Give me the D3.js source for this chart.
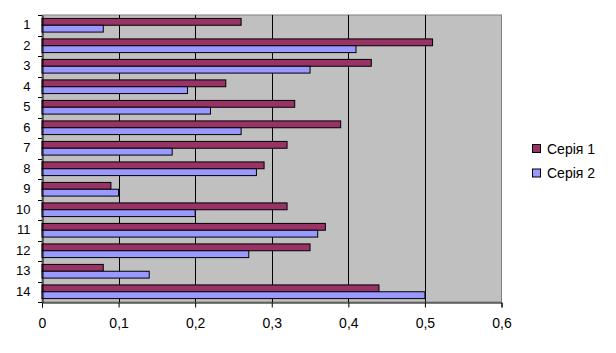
<!DOCTYPE html>
<html>
<head>
<meta charset="utf-8">
<script src="https://cdn.jsdelivr.net/npm/d3@7"></script>
<style>
body { margin: 0; background: #fff; }
text { font-family: "Liberation Sans", Arial, sans-serif; }
</style>
</head>
<body>
<svg id="chart" width="616" height="353"></svg>
<script>
var categories = ["1","2","3","4","5","6","7","8","9","10","11","12","13","14"]
var seria1 = [0.26,0.51,0.43,0.24,0.33,0.39,0.32,0.29,0.09,0.32,0.37,0.35,0.08,0.44]
var seria2 = [0.08,0.41,0.35,0.19,0.22,0.26,0.17,0.28,0.10,0.20,0.36,0.27,0.14,0.50]
var seriesNames = ["Серія 1", "Серія 2"]
var colors = ["#993366", "#9999FF"]
var xTicks = [0, 0.1, 0.2, 0.3, 0.4, 0.5, 0.6]

var svg = d3.select("#chart")
var pLeft = 42, pRight = 501.5, pTop = 15, pBottom = 302

var x = d3.scaleLinear().domain([0, 0.6]).range([pLeft, pRight])
var y = d3.scaleBand().domain(categories).range([pTop, pBottom]).paddingInner(0).paddingOuter(0)
var inner = d3.scaleBand().domain([0, 1]).range([0, y.bandwidth()]).paddingOuter(0.5)

// plot background
svg.append("rect")
    .attr("x", pLeft).attr("y", pTop)
    .attr("width", pRight - pLeft).attr("height", pBottom - pTop)
    .attr("fill", "#C0C0C0")
    .attr("stroke", "#808080")

// gridlines
svg.append("g")
    .selectAll("line")
    .data(xTicks.slice(1, -1))
    .enter()
    .append("line")
    .attr("x1", function(d){ return Math.round(x(d)) + 0.5 })
    .attr("x2", function(d){ return Math.round(x(d)) + 0.5 })
    .attr("y1", pTop).attr("y2", pBottom)
    .attr("stroke", "#000")

// bars
var data = categories.map(function(c, i){
    return {cat: c, vals: [seria1[i], seria2[i]]}
})
var groups = svg.append("g")
    .selectAll("g")
    .data(data)
    .enter()
    .append("g")
    .attr("transform", function(d){ return "translate(0," + y(d.cat) + ")" })

groups.selectAll("rect")
    .data(function(d){ return d.vals })
    .enter()
    .append("rect")
    .attr("x", x(0))
    .attr("y", function(d, i){ return inner(i) })
    .attr("width", function(d){ return x(d) - x(0) })
    .attr("height", inner.bandwidth())
    .attr("fill", function(d, i){ return colors[i] })
    .attr("stroke", "#000")
    .attr("stroke-width", 1)

// x axis
var xAxis = d3.axisBottom(x).tickValues(xTicks).tickSize(5)
    .tickFormat(function(d){ return d === 0 ? "0" : d3.format(".1f")(d).replace(".", ",") })
var gx = svg.append("g")
    .attr("transform", "translate(0," + (pBottom + 0.5) + ")")
    .call(xAxis)
gx.select(".domain").attr("stroke", "#000")
gx.selectAll("line").attr("stroke", "#000")
gx.selectAll("text")
    .attr("y", 16)
    .attr("font-size", 14)
    .attr("font-family", "Liberation Sans, Arial, sans-serif")
    .attr("fill", "#000")

// y axis
var yAxis = d3.axisLeft(y).tickSize(0).tickPadding(12)
var gy = svg.append("g")
    .attr("transform", "translate(" + (pLeft + 0.5) + ",0)")
    .call(yAxis)
gy.select(".domain").attr("stroke", "#000")
gy.selectAll("text")
    .attr("font-size", 13)
    .attr("font-family", "Liberation Sans, Arial, sans-serif")
    .attr("fill", "#000")

// category boundary ticks
svg.append("g")
    .selectAll("line")
    .data(categories.concat(["end"]))
    .enter()
    .append("line")
    .attr("x1", pLeft - 4).attr("x2", pLeft)
    .attr("y1", function(d, i){ return Math.round(pTop + i * y.step()) + 0.5 })
    .attr("y2", function(d, i){ return Math.round(pTop + i * y.step()) + 0.5 })
    .attr("stroke", "#000")

// legend
var legend = svg.append("g")
    .selectAll("g")
    .data(seriesNames)
    .enter()
    .append("g")
    .attr("transform", function(d, i){ return "translate(532," + (144 + i * 24.5) + ")" })
legend.append("rect")
    .attr("x", 0.5).attr("y", 0.5)
    .attr("width", 8).attr("height", 8)
    .attr("fill", function(d, i){ return colors[i] })
    .attr("stroke", "#000")
legend.append("text")
    .attr("x", 15).attr("y", 9.5)
    .attr("font-size", 14)
    .text(function(d){ return d })
</script>
</body>
</html>
